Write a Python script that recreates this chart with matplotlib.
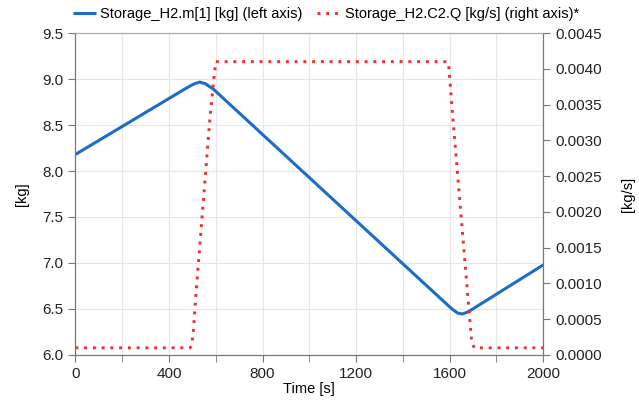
import matplotlib
matplotlib.use("Agg")
import matplotlib.pyplot as plt
from matplotlib.ticker import MultipleLocator, FormatStrFormatter

plt.rcParams['font.family'] = ['Liberation Sans', 'DejaVu Sans']

# storage mass [kg]
t_mass = [0, 480, 510, 532, 555, 590, 1200, 1610, 1635, 1655, 1680, 2000]
mass = [8.18, 8.91, 8.95, 8.967, 8.95, 8.89, 7.46, 6.50, 6.455, 6.445, 6.47, 6.978]

# outflow C2.Q [kg/s]
t_flow = [0, 490, 497, 505, 515, 575, 590, 600, 1590, 1596, 1613, 1673, 1694, 1705, 2000]
flow = [0.0001, 0.0001, 0.00013, 0.00036, 0.00083, 0.0033, 0.0038, 0.0041,
        0.0041, 0.00405, 0.00335, 0.00101, 0.0002, 0.0001, 0.0001]

blue = '#1c6cc8'
red = '#ee2e2f'
axis_col = '#777777'

fig = plt.figure(figsize=(6.39, 4.08), dpi=100)
ax = fig.add_axes([0.118, 0.130, 0.732, 0.789])
ax2 = ax.twinx()

l1, = ax.plot(t_mass, mass, color=blue, lw=2.2, solid_capstyle='butt')
l2, = ax2.plot(t_flow, flow, color=red, lw=2.1, linestyle=(0, (1, 2)),
               dash_capstyle='butt')

ax.set_xlim(0, 2000)
ax.set_ylim(6.0, 9.5)
ax2.set_ylim(0, 0.0045)

ax.xaxis.set_major_locator(MultipleLocator(400))
ax.xaxis.set_minor_locator(MultipleLocator(200))
ax.yaxis.set_major_locator(MultipleLocator(0.5))
ax.yaxis.set_major_formatter(FormatStrFormatter('%.1f'))
ax2.yaxis.set_major_locator(MultipleLocator(0.0005))
ax2.yaxis.set_major_formatter(FormatStrFormatter('%.4f'))

ax.grid(which='both', axis='x', color='#e6e6e6', lw=0.8)
ax.grid(which='major', axis='y', color='#e6e6e6', lw=0.8)
ax.set_axisbelow(True)

for a in (ax, ax2):
    for s in a.spines.values():
        s.set_color(axis_col)
    a.spines['top'].set_color('#aaaaaa')
    a.tick_params(which='both', color=axis_col, labelsize=11, length=5,
                  direction='out', labelcolor='#222222')
ax.tick_params(which='minor', length=5)

ax.set_xlabel('Time [s]', fontsize=10.5, labelpad=1)
ax.set_ylabel('[kg]', fontsize=10.5, labelpad=10)
ax2.set_ylabel('[kg/s]', fontsize=10.5, labelpad=14)

fig.legend([l1, l2], ['Storage_H2.m[1] [kg] (left axis)',
                      'Storage_H2.C2.Q [kg/s] (right axis)*'],
           loc='upper center', bbox_to_anchor=(0.51, 1.015), ncol=2,
           frameon=False, fontsize=10.5, handlelength=1.6,
           handletextpad=0.3, columnspacing=1.0)

fig.savefig('out.png', dpi=100)
